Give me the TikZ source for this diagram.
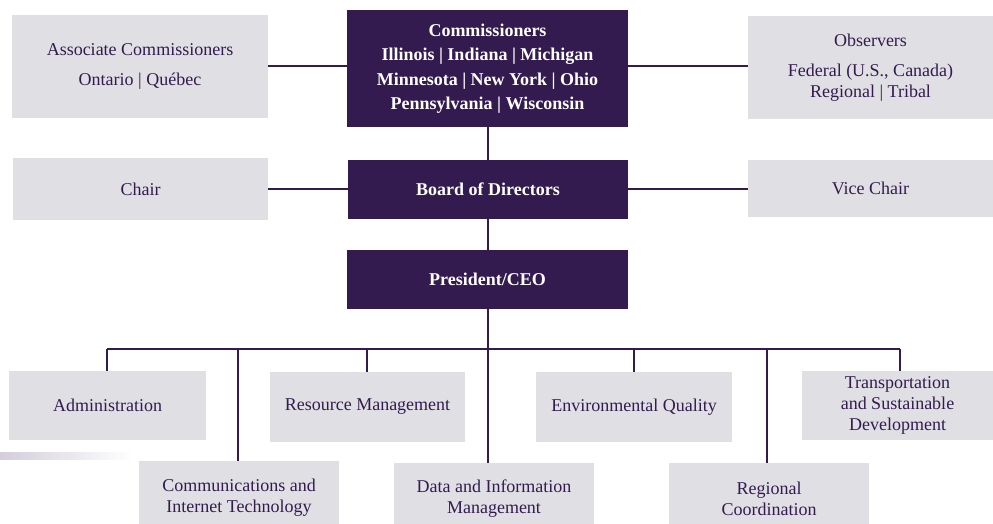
\documentclass[tikz,border=0pt]{standalone}
\usepackage{fontspec}
\setmainfont{Liberation Serif}
\definecolor{glcpurple}{HTML}{331B4F}
\definecolor{glcgray}{HTML}{E0E0E4}
\definecolor{glcfade}{HTML}{D3CEDB}
\tikzset{
	darkbox/.style={fill=glcpurple, text=white, font=\rmfamily\bfseries\fontsize{18}{24.5}\selectfont, align=center, inner sep=0pt},
	graybox/.style={fill=glcgray, text=glcpurple, font=\rmfamily\fontsize{18}{21}\selectfont, align=center, inner sep=0pt},
	link/.style={draw=glcpurple, line width=2.6pt},
	branch/.style={draw=glcpurple, line width=2pt}
}
\begin{document}
\begin{tikzpicture}[x=1pt,y=-1pt]
	\useasboundingbox (0,0) rectangle (993,523);
	\fill[left color=glcfade, right color=white] (0,452.7) rectangle (133,459);
	\node[darkbox, minimum width=281, minimum height=117] (comm) at (487.5,68.5) {Commissioners\\Illinois | Indiana | Michigan\\Minnesota | New York | Ohio\\Pennsylvania | Wisconsin};
	\node[graybox, minimum width=256, minimum height=103] (assoc) at (140,66.5) {Associate Commissioners\\[9pt]Ontario | Québec};
	\node[graybox, minimum width=245, minimum height=103] (obs) at (870.5,67.5) {Observers\\[9pt]Federal (U.S., Canada)\\Regional | Tribal};
	\node[darkbox, minimum width=280, minimum height=59] (board) at (488,189.5) {Board of Directors};
	\node[graybox, minimum width=255, minimum height=62] (chair) at (140.5,189) {Chair};
	\node[graybox, minimum width=245, minimum height=57] (vice) at (870.5,188.5) {Vice Chair};
	\node[darkbox, minimum width=281, minimum height=59] (pres) at (487.5,279.5) {President/CEO};
	\node[graybox, minimum width=197, minimum height=69] (admin) at (107.5,405.5) {Administration};
	\node[graybox, minimum width=195, minimum height=70] (res) at (367.5,407) {Resource Management};
	\node[graybox, minimum width=196, minimum height=70] (env) at (634,407) {Environmental Quality};
	\node[graybox, minimum width=191, minimum height=69] (trans) at (897.5,405.5) {Transportation\\and Sustainable\\Development};
	\node[graybox, minimum width=200, minimum height=74] (cit) at (239,498) {Communications and\\Internet Technology};
	\node[graybox, minimum width=200, minimum height=72] (data) at (494,499) {Data and Information\\Management};
	\node[graybox, minimum width=200, minimum height=72] (reg) at (769,499) {Regional\\Coordination};
	\coordinate (busL) at (107,349);
	\coordinate (busR) at (900,349);
	\draw[link] (assoc.east |- 0,66) -- (comm.west |- 0,66);
	\draw[link] (comm.east |- 0,66) -- (obs.west |- 0,66);
	\draw[link] (chair.east |- 0,189) -- (board.west |- 0,189);
	\draw[link] (board.east |- 0,189) -- (vice.west |- 0,189);
	\draw[branch] (comm.south -| 488,0) -- (board.north -| 488,0);
	\draw[branch] (board.south -| 488,0) -- (pres.north -| 488,0);
	\draw[branch] (pres.south -| 488,0) -- (data.north -| 488,0);
	\draw[link] (busL) -- (busR);
	\draw[branch] (busL) -- (admin.north -| busL);
	\draw[branch] (busL -| 238,0) -- (cit.north -| 238,0);
	\draw[branch] (busL -| 367,0) -- (res.north -| 367,0);
	\draw[branch] (busL -| 634,0) -- (env.north -| 634,0);
	\draw[branch] (busL -| 767,0) -- (reg.north -| 767,0);
	\draw[branch] (busR) -- (trans.north -| busR);
\end{tikzpicture}
\end{document}
